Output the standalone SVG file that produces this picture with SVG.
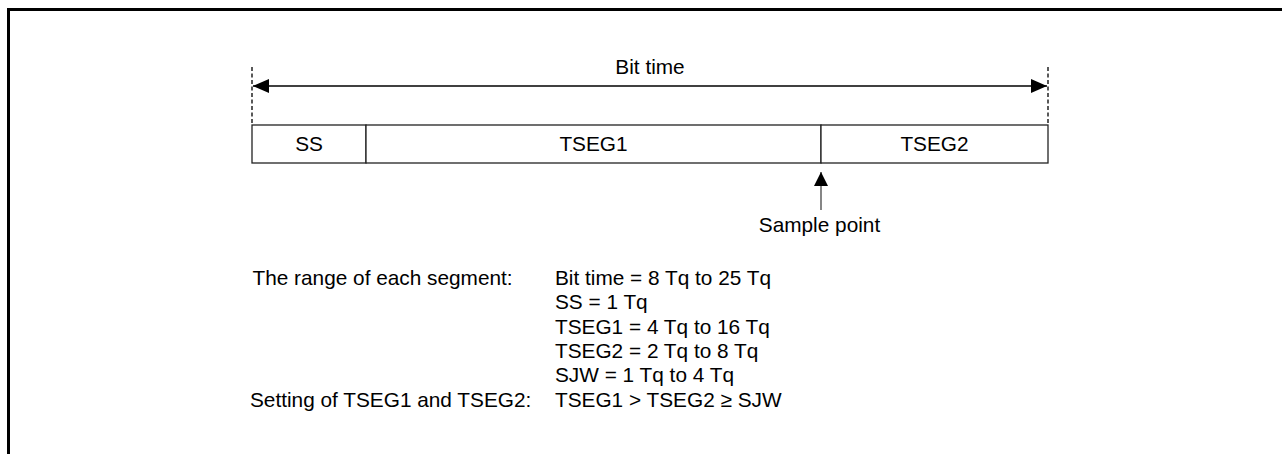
<svg xmlns="http://www.w3.org/2000/svg" width="1282" height="454" viewBox="0 0 1282 454">
<style>
text{font-family:"Liberation Sans",Arial,sans-serif;font-size:20.8px;fill:#000}
.mid{text-anchor:middle}
.box{fill:#fff;stroke:#222;stroke-width:1.3}
.dash{stroke:#000;stroke-width:1.3;stroke-dasharray:4,2.5;fill:none}
.ln{stroke:#000;stroke-width:1.3;fill:none}
</style>
<defs>
<marker id="ah" viewBox="0 0 16 14" refX="16" refY="7" markerWidth="16" markerHeight="14" markerUnits="userSpaceOnUse" orient="auto-start-reverse">
<path d="M0,0 L16,7 L0,14 Z" fill="#000"/>
</marker>
<marker id="ah2" viewBox="0 0 14 14" refX="14" refY="7" markerWidth="14" markerHeight="14" markerUnits="userSpaceOnUse" orient="auto">
<path d="M0,0 L14,7 L0,14 Z" fill="#000"/>
</marker>
</defs>
<g id="frame">
<line x1="7" y1="9.5" x2="1282" y2="9.5" stroke="#000" stroke-width="3"/>
<line x1="8.5" y1="8" x2="8.5" y2="454" stroke="#000" stroke-width="3"/>
</g>
<g id="bit-time">
<text class="mid" x="650" y="74">Bit time</text>
</g>
<g id="ss">
<rect class="box" x="252" y="125" width="114" height="38"/>
<text class="mid" x="309" y="151">SS</text>
</g>
<g id="tseg1">
<rect class="box" x="366" y="125" width="455" height="38"/>
<text class="mid" x="593.5" y="151">TSEG1</text>
</g>
<g id="tseg2">
<rect class="box" x="821" y="125" width="227" height="38"/>
<text class="mid" x="934.5" y="151">TSEG2</text>
</g>
<g id="sample-point">
<text class="mid" x="819.5" y="232">Sample point</text>
</g>
<g id="connectors">
<line class="dash" x1="252" y1="67" x2="252" y2="125"/>
<line class="dash" x1="1048" y1="67" x2="1048" y2="125"/>
<line class="ln" x1="253" y1="86" x2="1047" y2="86" marker-start="url(#ah)" marker-end="url(#ah)"/>
<line x1="821" y1="210" x2="821" y2="172" stroke="#444" stroke-width="1.3" marker-end="url(#ah2)"/>
</g>
<g id="notes">
<text x="252.5" y="285">The range of each segment:</text>
<text x="555" y="285">Bit time = 8 Tq to 25 Tq</text>
<text x="555" y="309.3">SS = 1 Tq</text>
<text x="555" y="333.6">TSEG1 = 4 Tq to 16 Tq</text>
<text x="555" y="357.9">TSEG2 = 2 Tq to 8 Tq</text>
<text x="555" y="382.2">SJW = 1 Tq to 4 Tq</text>
<text x="250" y="406.5">Setting of TSEG1 and TSEG2:</text>
<text x="555" y="406.5">TSEG1 &gt; TSEG2 ≥ SJW</text>
</g>
</svg>
